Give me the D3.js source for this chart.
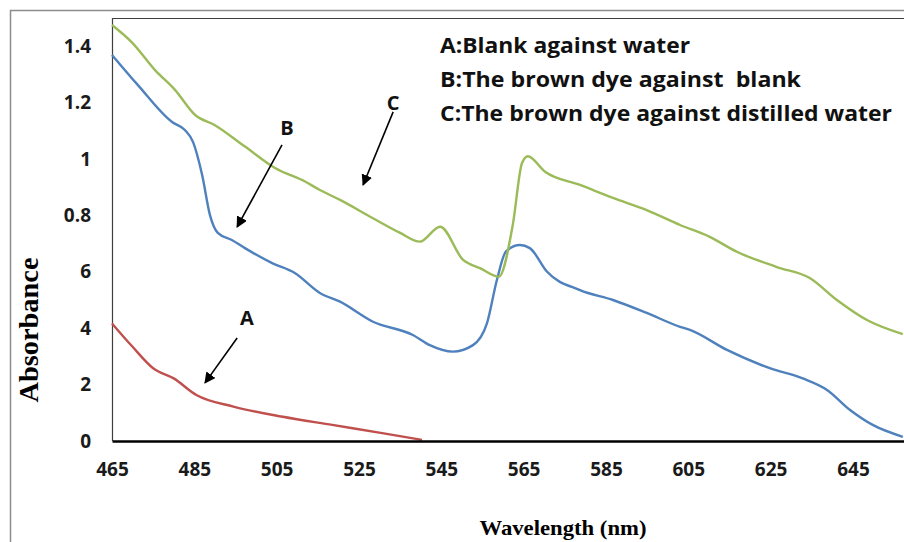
<!DOCTYPE html>
<html>
<head>
<meta charset="utf-8">
<script src="https://cdn.jsdelivr.net/npm/d3@7"></script>
<style>
  body { margin: 0; background: #fff; }
  svg { display: block; }
</style>
</head>
<body>
<svg id="chart" width="904" height="542"></svg>
<script>
// series A: blank against water
var nmA  = [465, 470, 475, 480, 485.5, 494.5, 506.5, 518.5, 531, 540.3];
var absA = [0.417, 0.334, 0.258, 0.222, 0.163, 0.122, 0.086, 0.057, 0.027, 0.004];

// series B: brown dye against blank
var nmB  = [465, 471.3, 479.6, 482.7, 484.7, 486.9, 488.8, 490.7, 494.1, 497.3, 503.9, 509.4, 515.5, 520.4, 528.4, 538.1, 542.2, 547.8, 552.7, 556.1, 558.5, 560.7, 564.1, 566.5, 570.7, 578.7, 586.7, 594.9, 603, 605.4, 614.4, 624.8, 632.8, 638.7, 644.3, 649.8, 657.1];
var absB = [1.369, 1.262, 1.131, 1.103, 1.06, 0.943, 0.801, 0.738, 0.713, 0.684, 0.631, 0.596, 0.525, 0.494, 0.423, 0.376, 0.34, 0.317, 0.34, 0.418, 0.571, 0.672, 0.695, 0.684, 0.6, 0.535, 0.5, 0.454, 0.405, 0.394, 0.323, 0.258, 0.222, 0.181, 0.11, 0.057, 0.015];

// series C: brown dye against distilled water
var nmC  = [465, 470, 475.4, 480.3, 485.2, 490, 497.3, 504.6, 511.9, 515.5, 520.4, 528.4, 535, 539.8, 544.7, 550.3, 554.4, 559, 562.4, 564.6, 566, 570.2, 578.7, 586.7, 594.9, 603, 610.2, 616.8, 626.5, 634.5, 641.1, 648.4, 657.1];
var absC = [1.475, 1.411, 1.316, 1.245, 1.156, 1.12, 1.044, 0.968, 0.92, 0.89, 0.855, 0.79, 0.738, 0.707, 0.76, 0.642, 0.613, 0.583, 0.77, 0.986, 1.01, 0.955, 0.908, 0.862, 0.819, 0.766, 0.724, 0.671, 0.617, 0.578, 0.5, 0.429, 0.379];

var xTicks = [465, 485, 505, 525, 545, 565, 585, 605, 625, 645];
var yTicks = [0, 0.2, 0.4, 0.6, 0.8, 1.0, 1.2, 1.4];
var yTickLabels = ['0', '2', '4', '6', '0.8', '1', '1.2', '1.4'];

var legendLines = ['A:Blank against water', 'B:The brown dye against  blank', 'C:The brown dye against distilled water'];

// callouts in data units: label, label point, arrow start, arrow tip
var callouts = [
  {label: 'A', lx: 497.8, ly: 0.436, sx: 495.4, sy: 0.365, tx: 487.6, ty: 0.206},
  {label: 'B', lx: 507.5, ly: 1.11,  sx: 506.3, sy: 1.05,  tx: 495.4, ty: 0.759},
  {label: 'C', lx: 533.3, ly: 1.199, sx: 533.3, sy: 1.167, tx: 526.0, ty: 0.908}
];

var svg = d3.select('#chart');
var plotLeft = 112, plotTop = 18, plotRight = 904, plotBottom = 441;

var x = d3.scaleLinear().domain([465, 657.4]).range([plotLeft, plotRight]);
var y = d3.scaleLinear().domain([0, 1.5]).range([plotBottom, plotTop]);

// outer frame
svg.append('path')
  .attr('d', 'M10.5,542 L10.5,10.5 L904,10.5')
  .attr('fill', 'none')
  .attr('stroke', '#8c8c8c')
  .attr('stroke-width', 1.5);

// plot frame (left + top)
svg.append('path')
  .attr('d', 'M' + (plotLeft + 0.5) + ',' + plotBottom + ' L' + (plotLeft + 0.5) + ',' + (plotTop + 0.5) + ' L' + plotRight + ',' + (plotTop + 0.5))
  .attr('fill', 'none')
  .attr('stroke', '#404040')
  .attr('stroke-width', 1.2);

var series = [
  {nm: nmA, abs: absA, color: '#C0504D'},
  {nm: nmB, abs: absB, color: '#4F81BD'},
  {nm: nmC, abs: absC, color: '#9BBB59'}
];

var line = d3.line()
  .x(function(d) { return x(d[0]); })
  .y(function(d) { return y(d[1]); })
  .curve(d3.curveMonotoneX);

svg.append('g').attr('class', 'lines')
  .selectAll('path')
  .data(series)
  .enter().append('path')
  .attr('d', function(s) { return line(d3.zip(s.nm, s.abs)); })
  .attr('fill', 'none')
  .attr('stroke', function(s) { return s.color; })
  .attr('stroke-width', 2.4)
  .attr('stroke-linejoin', 'round');

// x axis
var xAxis = svg.append('g')
  .attr('transform', 'translate(0,' + plotBottom + ')')
  .call(d3.axisBottom(x).tickValues(xTicks).tickSize(0).tickPadding(22));
xAxis.select('.domain').attr('stroke', '#000').attr('stroke-width', 2.6);
xAxis.selectAll('text')
  .attr('font-family', 'Open Sans, sans-serif')
  .attr('font-weight', 700)
  .attr('font-size', 19)
  .attr('fill', '#1a1a1a');

// y axis
var yAxis = svg.append('g')
  .attr('transform', 'translate(' + plotLeft + ',0)')
  .call(d3.axisLeft(y).tickValues(yTicks).tickSize(0).tickPadding(21)
    .tickFormat(function(d, i) { return yTickLabels[i]; }));
yAxis.select('.domain').remove();
yAxis.selectAll('text')
  .attr('font-family', 'Open Sans, sans-serif')
  .attr('font-weight', 700)
  .attr('font-size', 19)
  .attr('fill', '#1a1a1a');

// axis titles
svg.append('text')
  .attr('transform', 'translate(38,330) rotate(-90)')
  .attr('text-anchor', 'middle')
  .attr('font-family', 'Liberation Serif, serif')
  .attr('font-weight', 700)
  .attr('font-size', 27)
  .attr('textLength', 145)
  .attr('lengthAdjust', 'spacingAndGlyphs')
  .text('Absorbance');

svg.append('text')
  .attr('x', 563)
  .attr('y', 535)
  .attr('text-anchor', 'middle')
  .attr('font-family', 'Liberation Serif, serif')
  .attr('font-weight', 700)
  .attr('font-size', 22)
  .attr('textLength', 167)
  .attr('lengthAdjust', 'spacingAndGlyphs')
  .text('Wavelength (nm)');

// legend text
var legendWidths = [250, 361, 452];
svg.append('g').selectAll('text')
  .data(legendLines)
  .enter().append('text')
  .attr('x', 440)
  .attr('y', function(d, i) { return 53 + i * 34; })
  .attr('font-family', 'Open Sans, sans-serif')
  .attr('font-weight', 700)
  .attr('font-size', 22)
  .attr('fill', '#111')
  .style('white-space', 'pre')
  .attr('textLength', function(d, i) { return legendWidths[i]; })
  .attr('lengthAdjust', 'spacingAndGlyphs')
  .text(function(d) { return d; });

// arrows
svg.append('defs').append('marker')
  .attr('id', 'head')
  .attr('viewBox', '0 0 10 10')
  .attr('refX', 9).attr('refY', 5)
  .attr('markerWidth', 7).attr('markerHeight', 7)
  .attr('markerUnits', 'strokeWidth')
  .attr('orient', 'auto')
  .append('path')
  .attr('d', 'M0,0 L10,5 L0,10 z')
  .attr('fill', '#000');

var co = svg.append('g').attr('class', 'callouts');
co.selectAll('line')
  .data(callouts)
  .enter().append('line')
  .attr('x1', function(d) { return x(d.sx); })
  .attr('y1', function(d) { return y(d.sy); })
  .attr('x2', function(d) { return x(d.tx); })
  .attr('y2', function(d) { return y(d.ty); })
  .attr('stroke', '#000')
  .attr('stroke-width', 1.6)
  .attr('marker-end', 'url(#head)');
co.selectAll('text')
  .data(callouts)
  .enter().append('text')
  .attr('x', function(d) { return x(d.lx); })
  .attr('y', function(d) { return y(d.ly) + 7; })
  .attr('text-anchor', 'middle')
  .attr('font-family', 'Open Sans, sans-serif')
  .attr('font-weight', 700)
  .attr('font-size', 20)
  .attr('fill', '#111')
  .text(function(d) { return d.label; });
</script>
</body>
</html>
